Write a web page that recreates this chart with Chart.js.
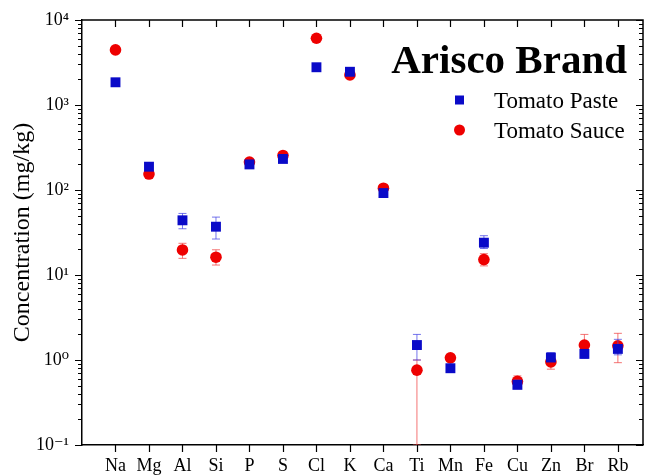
<!DOCTYPE html>
<html>
<head>
<meta charset="utf-8">
<script src="https://cdn.jsdelivr.net/npm/chart.js@4.4.1/dist/chart.umd.min.js"></script>
<style>
  html, body { margin: 0; padding: 0; background: #fff; }
  #wrap { width: 650px; height: 475px; }
</style>
</head>
<body>
<div id="wrap"><canvas id="chart" width="650" height="475"></canvas></div>
<script>
// element categories (x axis)
const elements = ['Na', 'Mg', 'Al', 'Si', 'P', 'S', 'Cl', 'K', 'Ca', 'Ti', 'Mn', 'Fe', 'Cu', 'Zn', 'Br', 'Rb'];

// Tomato Paste, mg/kg
const paste = [1850, 188, 44, 37, 200, 232, 2780, 2460, 92, 1.5, 0.8, 24, 0.51, 1.07, 1.18, 1.35];
const pasteLow = [null, null, 35, 26.5, null, null, null, null, null, 1.0, 0.74, 20.5, 0.46, 0.96, 1.05, 1.15];
const pasteHigh = [null, null, 53, 48, null, null, null, null, null, 2.0, 0.86, 29, 0.58, 1.22, 1.3, 1.75];

// Tomato Sauce, mg/kg
const sauce = [4450, 154, 19.7, 16.2, 213, 255, 6100, 2260, 105, 0.76, 1.06, 15.2, 0.56, 0.95, 1.5, 1.47];
const sauceLow = [null, null, 15.7, 13.1, null, null, null, null, null, 0.1, 0.98, 12.8, 0.48, 0.78, 1.1, 0.93];
const sauceHigh = [null, null, 23.6, 19.8, null, null, null, null, null, 1.0, 1.15, 17.8, 0.65, 1.1, 2.0, 2.06];

// y tick labels (decades)
const yDecades = [-1, 0, 1, 2, 3, 4];
const supers = { '-1': '⁻¹', '0': '⁰', '1': '¹', '2': '²', '3': '³', '4': '⁴' };

const SERIF = "'Liberation Serif', 'Times New Roman', 'DejaVu Serif', serif";

const toPoints = (vals) => vals.map((v, i) => ({ x: i + 1, y: v }));

// error bars, drawn just before each dataset's markers
const errorBars = {
    id: 'errorBars',
    beforeDatasetDraw: (chart, args) => {
        const ds = chart.data.datasets[args.index];
        if (!ds.errLow) return;
        const { ctx, chartArea } = chart;
        const xs = chart.scales.x, ys = chart.scales.y;
        ctx.save();
        ctx.beginPath();
        ctx.rect(chartArea.left, chartArea.top, chartArea.right - chartArea.left, chartArea.bottom - chartArea.top);
        ctx.clip();
        ctx.strokeStyle = ds.errColor;
        ctx.lineWidth = 1;
        ds.errLow.forEach((lo, i) => {
            const hi = ds.errHigh[i];
            if (lo == null || hi == null) return;
            const px = xs.getPixelForValue(i + 1);
            const y1 = ys.getPixelForValue(lo);
            const y2 = ys.getPixelForValue(hi);
            ctx.beginPath();
            ctx.moveTo(px, y1); ctx.lineTo(px, y2);
            ctx.moveTo(px - 4, y1); ctx.lineTo(px + 4, y1);
            ctx.moveTo(px - 4, y2); ctx.lineTo(px + 4, y2);
            ctx.stroke();
        });
        ctx.restore();
    }
};

// frame with mirrored tick marks
const frame = {
    id: 'frame',
    afterDraw: (chart) => {
        const { ctx, chartArea: { left, right, top, bottom } } = chart;
        const xs = chart.scales.x, ys = chart.scales.y;
        ctx.save();
        ctx.strokeStyle = '#000';
        ctx.lineWidth = 1.5;
        ctx.beginPath();
        ctx.moveTo(left, top); ctx.lineTo(right, top); ctx.lineTo(right, bottom);
        ctx.stroke();

        ctx.lineWidth = 1.2;
        ctx.beginPath();
        elements.forEach((_, i) => {
            const px = Math.round(xs.getPixelForValue(i + 1)) + 0.5;
            ctx.moveTo(px, bottom); ctx.lineTo(px, bottom + 7);
            ctx.moveTo(px, top); ctx.lineTo(px, top + 7);
        });
        yDecades.forEach(e => {
            const py = Math.round(ys.getPixelForValue(Math.pow(10, e))) + 0.5;
            ctx.moveTo(left - 7, py); ctx.lineTo(left, py);
            ctx.moveTo(right, py); ctx.lineTo(right - 7, py);
            if (e < 4) {
                for (let m = 2; m <= 9; m++) {
                    const my = Math.round(ys.getPixelForValue(m * Math.pow(10, e))) + 0.5;
                    ctx.moveTo(left - 4, my); ctx.lineTo(left, my);
                    ctx.moveTo(right, my); ctx.lineTo(right - 4, my);
                }
            }
        });
        ctx.stroke();
        ctx.restore();
    }
};

// "Arisco Brand" and the legend inside the plot
const heading = {
    id: 'heading',
    afterDraw: (chart) => {
        const ctx = chart.ctx;
        ctx.save();
        ctx.fillStyle = '#000';
        ctx.textBaseline = 'alphabetic';
        ctx.textAlign = 'right';
        ctx.font = 'bold 41px ' + SERIF;
        ctx.fillText('Arisco Brand', 627, 73);

        ctx.textAlign = 'left';
        ctx.font = '23px ' + SERIF;
        ctx.fillStyle = '#0a0ac8';
        ctx.fillRect(455, 95.5, 9, 9);
        ctx.fillStyle = '#000';
        ctx.fillText('Tomato Paste', 494, 108);

        ctx.fillStyle = '#ee0000';
        ctx.beginPath();
        ctx.arc(459.5, 130, 5.5, 0, Math.PI * 2);
        ctx.fill();
        ctx.fillStyle = '#000';
        ctx.fillText('Tomato Sauce', 494, 138);
        ctx.restore();
    }
};

new Chart(document.getElementById('chart'), {
    type: 'scatter',
    data: {
        datasets: [
            {
                label: 'Tomato Paste',
                data: toPoints(paste),
                pointStyle: 'rect',
                pointRadius: 7,
                backgroundColor: '#0a0ac8',
                borderColor: '#0a0ac8',
                borderWidth: 0,
                errLow: pasteLow,
                errHigh: pasteHigh,
                errColor: 'rgba(70, 70, 230, 0.75)'
            },
            {
                label: 'Tomato Sauce',
                data: toPoints(sauce),
                pointStyle: 'circle',
                pointRadius: 5.8,
                backgroundColor: '#ee0000',
                borderColor: '#ee0000',
                borderWidth: 0,
                errLow: sauceLow,
                errHigh: sauceHigh,
                errColor: 'rgba(240, 70, 70, 0.75)'
            }
        ]
    },
    options: {
        responsive: false,
        animation: false,
        layout: { padding: { top: 20, right: 2, left: 0, bottom: 0 } },
        plugins: {
            legend: { display: false },
            tooltip: { enabled: false }
        },
        scales: {
            x: {
                type: 'linear',
                min: 0,
                max: 16.75,
                afterBuildTicks: (scale) => {
                    scale.ticks = elements.map((_, i) => ({ value: i + 1 }));
                },
                afterFit: (scale) => { scale.height = 30; },
                grid: { display: false, drawTicks: false },
                border: { display: true, color: '#000', width: 1.5 },
                ticks: {
                    padding: 10,
                    color: '#000',
                    font: { family: SERIF, size: 18 },
                    autoSkip: false,
                    maxRotation: 0,
                    callback: (v) => elements[v - 1] || ''
                }
            },
            y: {
                type: 'logarithmic',
                min: 0.1,
                max: 10000,
                afterFit: (scale) => {
                    // keep the plot box fixed; tick padding would push the top down
                    scale.width = 82;
                    scale.paddingTop = 10;
                    scale.paddingBottom = 10;
                },
                grid: { display: false, drawTicks: false },
                border: { display: true, color: '#000', width: 1.5 },
                title: {
                    display: true,
                    text: 'Concentration (mg/kg)',
                    color: '#000',
                    font: { family: SERIF, size: 24 },
                    padding: { top: 8, bottom: 0 }
                },
                ticks: {
                    padding: 13,
                    color: '#000',
                    autoSkip: false,
                    font: { family: SERIF, size: 18 },
                    callback: (v) => {
                        const e = Math.round(Math.log10(v));
                        if (Math.abs(Math.log10(v) - e) > 1e-6) return '';
                        return '10' + supers[e];
                    }
                }
            }
        }
    },
    plugins: [errorBars, frame, heading]
});
</script>
</body>
</html>
